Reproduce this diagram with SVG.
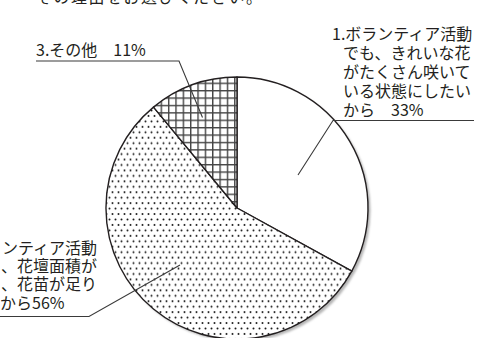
<svg xmlns="http://www.w3.org/2000/svg" width="487" height="338" viewBox="0 0 487 338">
<style>
text{font-family:"Noto Sans CJK JP","Noto Sans",sans-serif;font-size:16px;fill:#231f20}
.lead{fill:none;stroke:#3a3a3a;stroke-width:1.1}
.edge{stroke:#231f20;stroke-width:1.4;stroke-linejoin:round}
</style>
<defs>
<pattern id="dots" patternUnits="userSpaceOnUse" width="6" height="10.9">
<rect width="6" height="10.9" fill="#fff"/>
<circle cx="1.5" cy="1.5" r="1" fill="#1a1a1a"/>
<circle cx="4.5" cy="6.95" r="1" fill="#1a1a1a"/>
</pattern>
<pattern id="grid" patternUnits="userSpaceOnUse" x="6.25" y="1.2" width="7.35" height="7.4">
<rect width="7.35" height="7.4" fill="#fff"/>
<path d="M0.7 0V7.4M0 0.7H7.35" stroke="#444" stroke-width="1.4"/>
</pattern>
<filter id="blur" x="-10%" y="-10%" width="120%" height="120%"><feGaussianBlur stdDeviation="1"/></filter>
</defs>
<text x="36" y="3" textLength="226" lengthAdjust="spacing">その理由をお選びください。</text>
<circle cx="239.5" cy="210.5" r="131" fill="#b5b5b5" filter="url(#blur)"/>
<g id="slice1"><path class="edge" d="M237 208L237 77A131 131 0 0 1 351.8 271.1Z" fill="#fff"/></g>
<g id="slice2"><path class="edge" d="M237 208L351.8 271.1A131 131 0 1 1 153.5 107.1Z" fill="url(#dots)"/></g>
<g id="slice3"><path class="edge" d="M237 208L153.5 107.1A131 131 0 0 1 237 77Z" fill="url(#grid)"/></g>
<g id="label1">
<text x="332" y="39.5">1.ボランティア活動<tspan x="343" dy="19.3">でも、きれいな花</tspan><tspan x="343" dy="19.2">がたくさん咲いて</tspan><tspan x="343" dy="19.2">いる状態にしたい</tspan><tspan x="343" dy="18.3">から　33%</tspan></text>
</g>
<g id="label2">
<text x="97" y="253.5" text-anchor="end">ンティア活動<tspan x="97" dy="18">、花壇面積が</tspan><tspan x="97" dy="18.5">、花苗が足り</tspan></text>
<text x="0" y="308.5">から56%</text>
</g>
<g id="label3">
<text x="36" y="55.5">3.その他　11%</text>
</g>
<g id="connectors">
<path class="lead" d="M474 120.5H333L298 175"/>
<path class="lead" d="M0 316.5H89L180 265"/>
<path class="lead" d="M36 61H179L202.5 117.5"/>
</g>
</svg>
